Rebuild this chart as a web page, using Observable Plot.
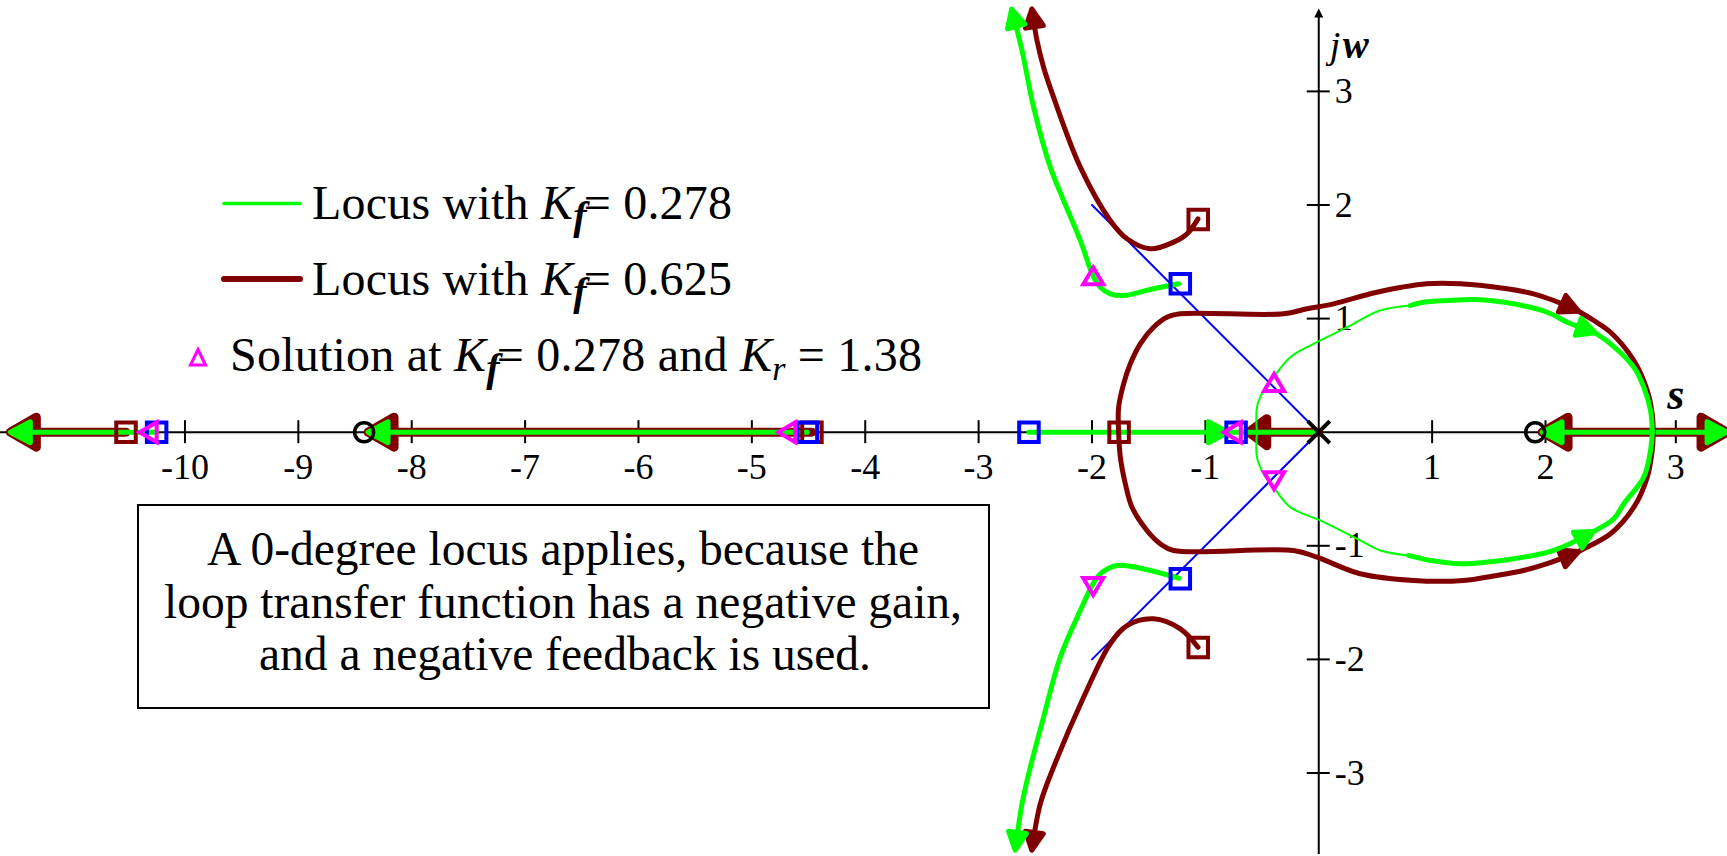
<!DOCTYPE html>
<html>
<head>
<meta charset="utf-8">
<script src="https://cdn.jsdelivr.net/npm/d3@7"></script>
<script src="https://cdn.jsdelivr.net/npm/@observablehq/plot@0.6"></script>
<style>
  html, body { margin: 0; padding: 0; background: #fff; }
  #chart { position: relative; width: 1727px; height: 856px; font-family: "Liberation Serif", "Times New Roman", serif; }
  #chart svg.overlay { position: absolute; left: 0; top: 0; pointer-events: none; }
</style>
</head>
<body>
<div id="chart"></div>
<script>
// ---- axis ticks -------------------------------------------------------
const xTicks = [-10, -9, -8, -7, -6, -5, -4, -3, -2, -1, 1, 2, 3];
const yTicks = [-3, -2, -1, 1, 2, 3];

// ---- locus with Kf = 0.278 (green) -----------------------------------
const greenUpperLeft = [[-1.236,1.306],[-1.486,1.256],[-1.721,1.203],[-1.839,1.218],[-1.927,1.276],[-1.986,1.364],[-2.103,1.688],[-2.25,2.04],[-2.368,2.333],[-2.515,2.861],[-2.617,3.36],[-2.705,3.712]];
const greenLowerLeft = [[-1.236,-1.285],[-1.486,-1.217],[-1.78,-1.173],[-1.927,-1.247],[-1.991,-1.335],[-2.103,-1.57],[-2.28,-1.981],[-2.427,-2.509],[-2.544,-2.949],[-2.617,-3.271],[-2.676,-3.667]];
const greenLoopThinUpper = [[-0.545,0],[-0.545,0.22],[-0.487,0.367],[-0.399,0.484],[-0.251,0.66],[-0.046,0.778],[0.249,0.924],[0.542,1.071],[0.807,1.115]];
const greenLoopThinLower = [[-0.545,0],[-0.545,-0.22],[-0.487,-0.366],[-0.399,-0.484],[-0.251,-0.66],[0.013,-0.777],[0.366,-0.953],[0.542,-1.041],[0.792,-1.085]];
const greenLoopUpperA = [[0.807,1.115],[0.924,1.144],[1.13,1.159],[1.424,1.166],[1.718,1.13],[2.013,1.056],[2.167,0.968],[2.371,0.88]];
const greenLoopUpperB = [[2.371,0.88],[2.499,0.778],[2.678,0.572],[2.754,0.396],[2.806,0.191],[2.82,0]];
const greenLoopLowerA = [[0.792,-1.085],[0.983,-1.129],[1.248,-1.158],[1.718,-1.114],[2.064,-1.041],[2.358,-0.88]];
const greenLoopLowerB = [[2.358,-0.88],[2.524,-0.762],[2.601,-0.63],[2.754,-0.396],[2.806,-0.161],[2.82,0]];
const greenAxisFar = [[-10.25,0],[-11.527,0]];
const greenAxisMid = [[-4.51,0],[-8.372,0]];
const greenAxisNearA = [[-2.556,0],[-0.81,0]];
const greenAxisNearB = [[-0.81,0],[0,0]];
const greenAxisToZero = [[2.82,0],[1.983,0]];
const greenAxisOut = [[2.82,0],[3.381,0]];

// ---- locus with Kf = 0.625 (brown) -----------------------------------
const brownUpperLeft = [[-1.065,1.878],[-1.162,1.746],[-1.28,1.673],[-1.487,1.614],[-1.691,1.702],[-1.839,1.864],[-2.103,2.333],[-2.339,2.949],[-2.427,3.213],[-2.485,3.448],[-2.529,3.712]];
const brownLowerLeft = [[-1.065,-1.893],[-1.221,-1.731],[-1.457,-1.643],[-1.691,-1.702],[-1.839,-1.863],[-2.074,-2.333],[-2.339,-2.949],[-2.456,-3.271],[-2.529,-3.667]];
const brownLoopUpperA = [[-1.765,0],[-1.765,0.22],[-1.721,0.426],[-1.662,0.602],[-1.574,0.778],[-1.457,0.924],[-1.339,1.012],[-1.221,1.042],[-0.31,1.042],[-0.104,1.086],[0.131,1.13],[0.513,1.232],[0.954,1.306],[1.248,1.306],[1.66,1.262],[1.894,1.218],[2.064,1.159],[2.243,1.071]];
const brownLoopUpperB = [[2.243,1.071],[2.371,0.983],[2.499,0.88],[2.678,0.631],[2.781,0.367],[2.819,0.162],[2.827,0]];
const brownLoopLowerA = [[-1.765,0],[-1.75,-0.22],[-1.706,-0.454],[-1.647,-0.66],[-1.515,-0.865],[-1.398,-0.982],[-1.28,-1.041],[-0.222,-1.041],[-0.016,-1.1],[0.366,-1.246],[0.836,-1.305],[1.277,-1.305],[1.571,-1.261],[1.806,-1.217],[2.013,-1.158],[2.243,-1.056]];
const brownLoopLowerB = [[2.243,-1.056],[2.294,-1.026],[2.499,-0.894],[2.678,-0.66],[2.781,-0.396],[2.819,-0.161],[2.827,0]];
const brownAxisFar = [[-10.52,0],[-11.527,0]];
const brownAxisMid = [[-4.47,0],[-8.372,0]];
const brownAxisNear = [[0,0],[-0.604,0]];
const brownAxisToZero = [[2.82,0],[1.983,0]];
const brownAxisOut = [[2.82,0],[3.381,0]];

// ---- 0.707 damping lines ---------------------------------------------
const dampingUpper = [[0,0],[-2,2]];
const dampingLower = [[0,0],[-2,-2]];

// ---- markers ----------------------------------------------------------
const blueSquares = [[-10.25,0],[-4.51,0],[-2.556,0],[-0.729,0],[-1.221,1.306],[-1.221,-1.29]];
const brownSquares = [[-10.52,0],[-4.47,0],[-1.761,0],[-1.063,1.872],[-1.063,-1.895]];
const solutionUp = [[-1.989,1.372],[-0.394,0.433]];
const solutionDown = [[-1.989,-1.354],[-0.394,-0.423]];
const solutionLeft = [[-10.32,0],[-4.687,0],[-0.758,0]];
const openLoopZeros = [[-8.42,0],[1.909,0]];
const openLoopPoles = [[0,0]];

// ---- legend / note text -----------------------------------------------
const legendGreen = {pre: "Locus with ", kf: "0.278"};
const legendBrown = {pre: "Locus with ", kf: "0.625"};
const legendSolution = {pre: "Solution at ", kf: "0.278", kr: "1.38"};
const noteLines = [
  "A 0-degree locus applies, because the",
  "loop transfer function has a negative gain,",
  "and a negative feedback is used."
];

const GREEN = "#00ff00", BROWN = "#800000", BLUE = "#0000ff", MAGENTA = "#ff00ff";
const FONT = "'Liberation Serif', 'Times New Roman', serif";

// filled arrowhead marker whose tip sits on the end of the path
function arrowHead(fill, len, wid) {
  return () => {
    const ns = "http://www.w3.org/2000/svg";
    const m = document.createElementNS(ns, "marker");
    m.setAttribute("viewBox", `${1.5 - len} ${-wid / 2} ${len} ${wid}`);
    m.setAttribute("markerUnits", "userSpaceOnUse");
    m.setAttribute("markerWidth", len);
    m.setAttribute("markerHeight", wid);
    m.setAttribute("refX", 0);
    m.setAttribute("refY", 0);
    m.setAttribute("orient", "auto");
    m.setAttribute("overflow", "visible");
    const p = document.createElementNS(ns, "path");
    p.setAttribute("d", `M1.5,0L${1.5 - len},${-wid / 2}L${1.5 - len},${wid / 2}Z`);
    p.setAttribute("fill", fill);
    m.appendChild(p);
    return m;
  };
}
const greenCurveArrow = arrowHead(GREEN, 18, 18);
const brownCurveArrow = arrowHead(BROWN, 18, 18);
const greenAxisArrow = arrowHead(GREEN, 20, 21);
const brownAxisArrow = arrowHead(BROWN, 26, 30);
const brownShortArrow = arrowHead(BROWN, 18, 27);

// custom symbols
const sym = (draw) => ({draw});
const squareSym = sym((c) => { const h = 9.75; c.moveTo(-h, -h); c.lineTo(h, -h); c.lineTo(h, h); c.lineTo(-h, h); c.closePath(); });
const circleSym = sym((c) => { c.moveTo(9.5, 0); c.arc(0, 0, 9.5, 0, 2 * Math.PI); });
const timesSym = sym((c) => { const h = 11; c.moveTo(-h, -h); c.lineTo(h, h); c.moveTo(-h, h); c.lineTo(h, -h); });
const triUpSym = sym((c) => { c.moveTo(0, -9); c.lineTo(10, 8); c.lineTo(-10, 8); c.closePath(); });
const triDownSym = sym((c) => { c.moveTo(0, 9); c.lineTo(10, -8); c.lineTo(-10, -8); c.closePath(); });
const triLeftSym = sym((c) => { c.moveTo(-9, 0); c.lineTo(8, -10); c.lineTo(8, 10); c.closePath(); });
const tickVSym = sym((c) => { c.moveTo(0, -12); c.lineTo(0, 11); });
const tickHSym = sym((c) => { c.moveTo(-12, 0); c.lineTo(11, 0); });
const axisTipSym = sym((c) => { c.moveTo(0, 0); c.lineTo(4.5, 9); c.lineTo(-4.5, 9); c.closePath(); });

const px = (d) => d[0], py = (d) => d[1];
const curve = (pts, stroke, strokeWidth, extra = {}) =>
  Plot.line(pts, {x: px, y: py, stroke, strokeWidth, curve: "catmull-rom", ...extra});
const straight = (pts, stroke, strokeWidth, extra = {}) =>
  Plot.line(pts, {x: px, y: py, stroke, strokeWidth, ...extra});
const points = (pts, symbol, stroke, strokeWidth) =>
  Plot.dot(pts, {x: px, y: py, symbol, stroke, strokeWidth, fill: "none", r: 5});

const plot = Plot.plot({
  width: 1727,
  height: 856,
  margin: 0,
  style: {fontFamily: FONT, background: "white", overflow: "visible"},
  x: {type: "linear", domain: [-11.627, 2, 3, 3.396], range: [0, 1545, 1675.3, 1727], axis: null},
  y: {type: "linear", domain: [-3.735, 3.8], range: [856, 0], axis: null},
  marks: [
    // axes through the origin
    Plot.ruleY([0], {stroke: "black", strokeWidth: 2}),
    Plot.ruleX([0], {stroke: "black", strokeWidth: 2, insetTop: 12, insetBottom: 2}),
    Plot.dot([0], {x: (d) => d, frameAnchor: "top", dy: 8, symbol: axisTipSym, fill: "black", stroke: "none"}),
    Plot.dot(xTicks, {x: (d) => d, y: 0, symbol: tickVSym, stroke: "black", strokeWidth: 2, fill: "none"}),
    Plot.dot(yTicks, {x: 0, y: (d) => d, symbol: tickHSym, stroke: "black", strokeWidth: 2, fill: "none"}),
    Plot.text(xTicks, {x: (d) => d, y: 0, text: (d) => String(d), dy: 35, fontSize: 36, fill: "black"}),
    Plot.text(yTicks, {x: 0, y: (d) => d, text: (d) => String(d), dx: 16, textAnchor: "start", fontSize: 36, fill: "black"}),
    Plot.text(["j"], {x: 0, frameAnchor: "top", text: (d) => d, dx: 11, dy: 57, textAnchor: "start", lineAnchor: "bottom", fontSize: 38, fontStyle: "italic"}),
    Plot.text(["w"], {x: 0, frameAnchor: "top", text: (d) => d, dx: 24, dy: 57, textAnchor: "start", lineAnchor: "bottom", fontSize: 39, fontStyle: "italic", fontWeight: "bold"}),
    Plot.text(["s"], {x: 3, y: 0, text: (d) => d, dy: -23, lineAnchor: "bottom", fontSize: 44, fontStyle: "italic", fontWeight: "bold"}),

    // damping-ratio guide lines
    straight(dampingUpper, BLUE, 2),
    straight(dampingLower, BLUE, 2),

    // real-axis segments (brown under green)
    straight(brownAxisFar, BROWN, 9, {markerEnd: brownAxisArrow}),
    straight(brownAxisMid, BROWN, 9, {markerEnd: brownAxisArrow}),
    straight(brownAxisNear, BROWN, 9, {markerEnd: brownShortArrow}),
    straight(brownAxisToZero, BROWN, 9, {markerEnd: brownAxisArrow}),
    straight(brownAxisOut, BROWN, 9, {markerEnd: brownAxisArrow}),
    straight(greenAxisFar, GREEN, 5, {markerEnd: greenAxisArrow}),
    straight(greenAxisMid, GREEN, 5, {markerEnd: greenAxisArrow}),
    straight(greenAxisNearA, GREEN, 5, {markerEnd: greenAxisArrow}),
    straight(greenAxisNearB, GREEN, 5),
    straight(greenAxisToZero, GREEN, 5, {markerEnd: greenAxisArrow}),
    straight(greenAxisOut, GREEN, 5, {markerEnd: greenAxisArrow}),

    // complex branches
    curve(brownUpperLeft, BROWN, 5, {markerEnd: brownCurveArrow}),
    curve(brownLowerLeft, BROWN, 5, {markerEnd: brownCurveArrow}),
    curve(brownLoopUpperA, BROWN, 5, {markerEnd: brownCurveArrow}),
    curve(brownLoopUpperB, BROWN, 5),
    curve(brownLoopLowerA, BROWN, 5, {markerEnd: brownCurveArrow}),
    curve(brownLoopLowerB, BROWN, 5),
    curve(greenUpperLeft, GREEN, 5, {markerEnd: greenCurveArrow}),
    curve(greenLowerLeft, GREEN, 5, {markerEnd: greenCurveArrow}),
    curve(greenLoopThinUpper, GREEN, 2),
    curve(greenLoopThinLower, GREEN, 2),
    curve(greenLoopUpperA, GREEN, 5, {markerEnd: greenCurveArrow}),
    curve(greenLoopUpperB, GREEN, 5),
    curve(greenLoopLowerA, GREEN, 5, {markerEnd: greenCurveArrow}),
    curve(greenLoopLowerB, GREEN, 5),

    // open-loop zeros and pole, start points, solution points
    points(openLoopZeros, circleSym, "black", 3.5),
    points(openLoopPoles, timesSym, "black", 4),
    points(brownSquares, squareSym, BROWN, 4),
    points(blueSquares, squareSym, BLUE, 4),
    points(solutionUp, triUpSym, MAGENTA, 4),
    points(solutionDown, triDownSym, MAGENTA, 4),
    points(solutionLeft, triLeftSym, MAGENTA, 4)
  ]
});

const chart = document.getElementById("chart");
chart.appendChild(plot);

// legend and note drawn in an overlay
const kf = `<tspan font-style="italic">K</tspan><tspan font-style="italic" font-weight="bold" font-size="40" dy="10">f</tspan><tspan dx="-3" dy="-10">=</tspan>`;
const kr = `<tspan font-style="italic">K</tspan><tspan font-style="italic" font-size="34" dy="9">r</tspan><tspan dy="-9"> =</tspan>`;
const overlay = `
<svg class="overlay" width="1727" height="856" font-family="${FONT}" fill="black">
  <line x1="224" x2="300" y1="203.5" y2="203.5" stroke="${GREEN}" stroke-width="3.5" stroke-linecap="round"/>
  <text x="312" y="219" font-size="48" textLength="420" lengthAdjust="spacing">${legendGreen.pre}${kf} ${legendGreen.kf}</text>
  <line x1="224" x2="300" y1="279" y2="279" stroke="${BROWN}" stroke-width="6" stroke-linecap="round"/>
  <text x="312" y="295" font-size="48" textLength="420" lengthAdjust="spacing">${legendBrown.pre}${kf} ${legendBrown.kf}</text>
  <path d="M198,349.5L205.5,365L190.5,365Z" fill="none" stroke="${MAGENTA}" stroke-width="3"/>
  <text x="230" y="371" font-size="48" textLength="692" lengthAdjust="spacing">${legendSolution.pre}${kf} ${legendSolution.kf} and ${kr} ${legendSolution.kr}</text>
  <rect x="138" y="505" width="851" height="203" fill="white" stroke="black" stroke-width="2"/>
  <text x="563" y="565" font-size="47.5" text-anchor="middle">${noteLines[0]}</text>
  <text x="563" y="617.5" font-size="47.5" text-anchor="middle">${noteLines[1]}</text>
  <text x="565" y="670" font-size="47.5" text-anchor="middle">${noteLines[2]}</text>
</svg>`;
chart.insertAdjacentHTML("beforeend", overlay);
</script>
</body>
</html>
